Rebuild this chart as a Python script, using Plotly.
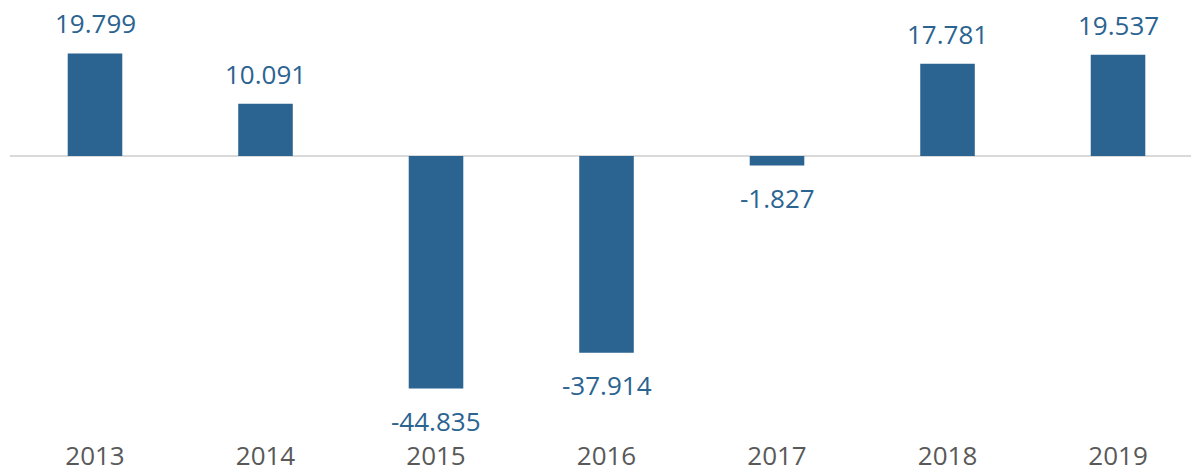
import plotly.graph_objects as go

years = ["2013", "2014", "2015", "2016", "2017", "2018", "2019"]
values = [19.799, 10.091, -44.835, -37.914, -1.827, 17.781, 19.537]
labels = ["19.799", "10.091", "-44.835", "-37.914", "-1.827", "17.781", "19.537"]

bar_color = "#2B6391"

fig = go.Figure(go.Bar(
    x=years, y=values,
    marker=dict(color=bar_color, line=dict(width=0)),
    width=0.32, cliponaxis=False,
))

for i, (v, lab) in enumerate(zip(values, labels)):
    fig.add_annotation(
        x=i, y=v, xref="x", yref="y", text=lab, showarrow=False,
        yanchor="middle", yshift=30 if v >= 0 else -32,
        font=dict(family="Open Sans", size=26, color=bar_color),
    )

fig.update_layout(
    width=1191, height=473,
    margin=dict(l=10, r=0, t=0, b=33),
    plot_bgcolor="white", paper_bgcolor="white",
    showlegend=False,
    xaxis=dict(type="category", showgrid=False, showline=False, ticks="",
               range=[-0.4985, 6.428], ticklabelstandoff=3,
               tickfont=dict(family="Open Sans", size=26, color="#595959")),
    yaxis=dict(range=[-53.8, 30.1], showgrid=False, showticklabels=False,
               zeroline=True, zerolinecolor="#d9d9d9", zerolinewidth=2),
)

fig.write_html("out.html", config={"displayModeBar": False},
               post_script="document.body.style.margin='0';document.body.style.padding='0';")
